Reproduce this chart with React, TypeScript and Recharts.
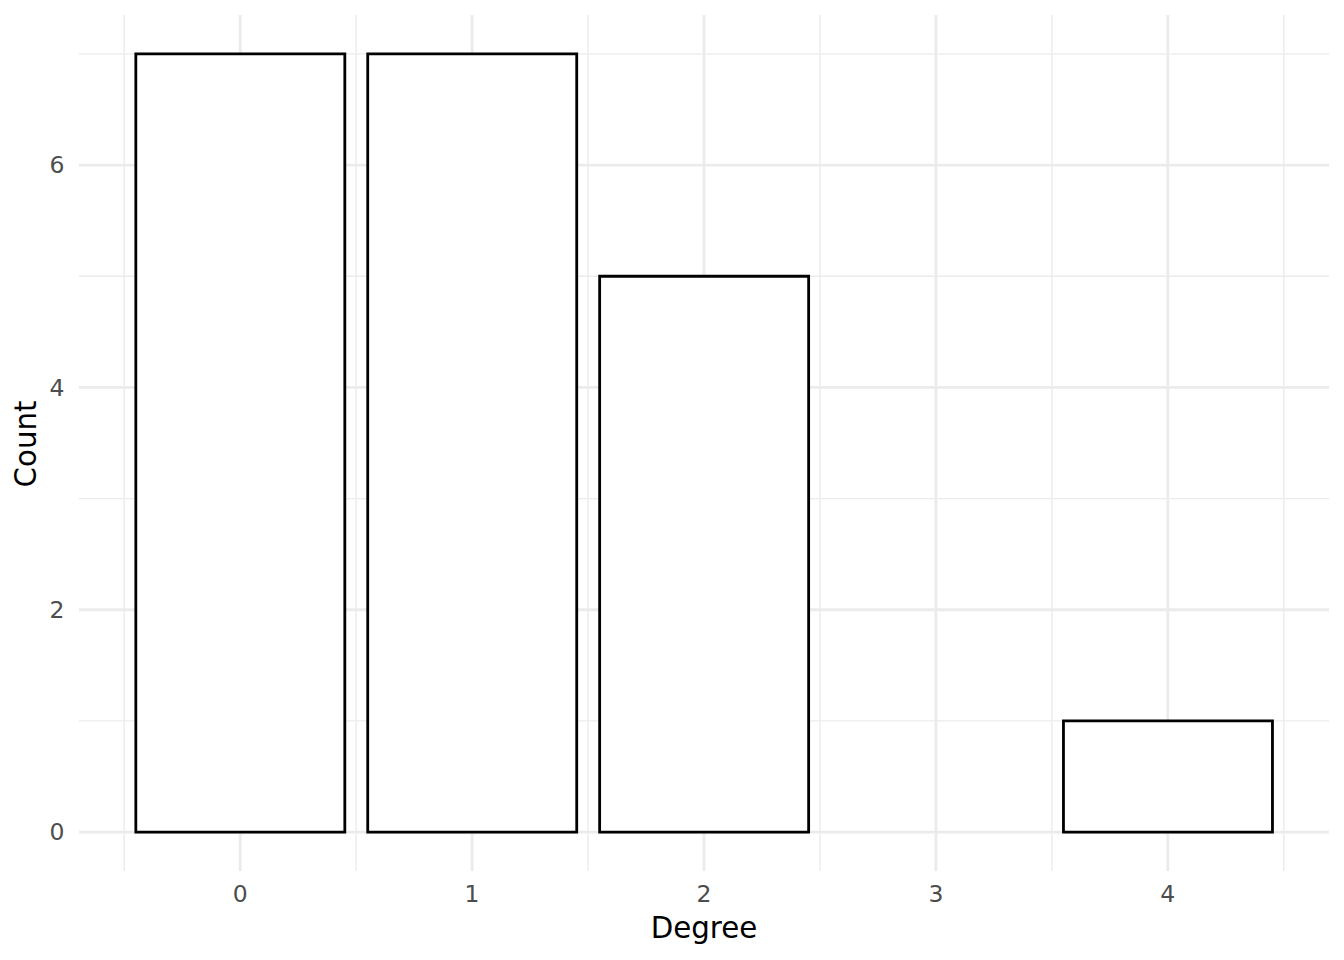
import { BarChart, Bar, XAxis, YAxis, CartesianGrid } from 'recharts'

// degree distribution (degree 3 has no observations, so it has no bar)
const degrees = [0, 1, 2, 4]
const counts = [7, 7, 5, 1]

const xTicks = [0, 1, 2, 3, 4]
const xMinor = [-0.5, 0.5, 1.5, 2.5, 3.5, 4.5]
const yTicks = [0, 2, 4, 6]
const yMinor = [1, 3, 5, 7]

const data = degrees.map((d, i) => ({ degree: d, count: counts[i] }))

const FONT = '"DejaVu Sans", sans-serif'
const GRID = '#EBEBEB'

const tickStyle = { fontSize: 23.5, fill: '#4D4D4D', fontFamily: FONT }

const renderYTitle = (props: any) => {
  const vb = props.viewBox || { x: 0, y: 15, width: 79, height: 856 }
  const cx = 36
  const cy = vb.y + vb.height / 2 + 1
  return (
    <text
      x={cx}
      y={cy}
      transform={`rotate(-90, ${cx}, ${cy})`}
      textAnchor="middle"
      fontSize={29.3}
      fontFamily={FONT}
      fill="#000"
    >
      Count
    </text>
  )
}

const renderXTitle = (props: any) => {
  const vb = props.viewBox || { x: 79, y: 871, width: 1250, height: 89 }
  return (
    <text
      x={vb.x + vb.width / 2}
      y={938}
      textAnchor="middle"
      fontSize={29.3}
      fontFamily={FONT}
      fill="#000"
    >
      Degree
    </text>
  )
}

export default function App() {
  return (
    <div style={{ position: 'absolute', left: 0, top: 0, width: 1344, height: 960, background: '#fff' }}>
      <BarChart
        width={1344}
        height={960}
        data={data}
        margin={{ top: 15, right: 15, bottom: 0, left: 0 }}
        barCategoryGap="5%"
      >
        {/* minor grid */}
        <CartesianGrid
          stroke={GRID}
          strokeWidth={1.4}
          horizontalValues={yMinor}
          verticalValues={xMinor}
        />
        {/* major grid */}
        <CartesianGrid
          stroke={GRID}
          strokeWidth={2.8}
          horizontalValues={yTicks}
          verticalValues={xTicks}
        />
        <XAxis
          dataKey="degree"
          type="number"
          domain={[-0.695, 4.695]}
          allowDataOverflow
          ticks={xTicks}
          interval={0}
          height={89}
          axisLine={false}
          tickLine={false}
          tickSize={0}
          tickMargin={14}
          tick={tickStyle}
          label={renderXTitle}
        />
        <YAxis
          type="number"
          domain={[-0.35, 7.35]}
          allowDataOverflow
          ticks={yTicks}
          interval={0}
          width={79}
          axisLine={false}
          tickLine={false}
          tickSize={0}
          tickMargin={14.5}
          tick={tickStyle}
          label={renderYTitle}
        />
        <Bar
          dataKey="count"
          fill="#fff"
          stroke="#000"
          strokeWidth={2.8}
          isAnimationActive={false}
        />
      </BarChart>
    </div>
  )
}
